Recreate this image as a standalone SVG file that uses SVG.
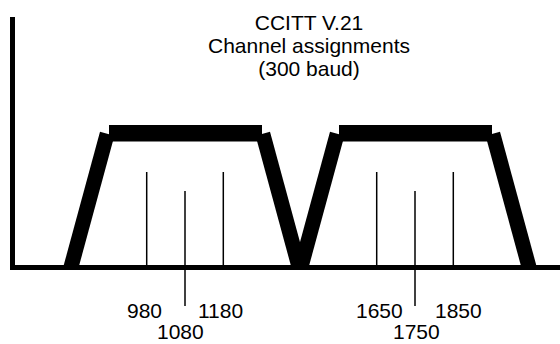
<svg xmlns="http://www.w3.org/2000/svg" width="560" height="344" viewBox="0 0 560 344">
  <style>
    .axis { stroke: #000; stroke-width: 5; fill: none; }
    .band { fill: #000; stroke: none; }
    .tick { stroke: #000; stroke-width: 1.5; fill: none; }
    text { font-family: "Liberation Sans", Arial, Helvetica, sans-serif; font-size: 21px; fill: #000; }
    .title { text-anchor: middle; }
  </style>
  <rect width="560" height="344" fill="#fff"/>

  <!-- title -->
  <g id="title">
    <text class="title" x="309" y="30">CCITT V.21</text>
    <text class="title" x="309" y="53">Channel assignments</text>
    <text class="title" x="309" y="76">(300 baud)</text>
  </g>

  <!-- lower channel: 980 / 1080 / 1180 Hz -->
  <g id="channel-low">
    <polygon class="band" points="63.1,267.5 78.6,267.5 114.4,135.7 100,131.7"/>
    <rect class="band" x="109" y="125" width="153" height="16.5"/>
    <polygon class="band" points="306.9,267.5 291.4,267.5 255.6,135.7 270,131.7"/>
    <line class="tick" x1="146.7" y1="172" x2="146.7" y2="267"/>
    <line class="tick" x1="223.3" y1="172" x2="223.3" y2="267"/>
    <line class="tick" x1="185" y1="191" x2="185" y2="306"/>
    <text x="127" y="318">980</text>
    <text x="198" y="318">1180</text>
    <text x="157" y="339">1080</text>
  </g>

  <!-- upper channel: 1650 / 1750 / 1850 Hz -->
  <g id="channel-high">
    <polygon class="band" points="293.1,267.5 308.6,267.5 344.4,135.7 330,131.7"/>
    <rect class="band" x="339" y="125" width="153" height="16.5"/>
    <polygon class="band" points="536.9,267.5 521.4,267.5 485.6,135.7 500,131.7"/>
    <line class="tick" x1="376.7" y1="172" x2="376.7" y2="267"/>
    <line class="tick" x1="453.3" y1="172" x2="453.3" y2="267"/>
    <line class="tick" x1="415" y1="191" x2="415" y2="306"/>
    <text x="356" y="318">1650</text>
    <text x="435" y="318">1850</text>
    <text x="393" y="339">1750</text>
  </g>

  <!-- axes -->
  <g id="axes">
    <polyline class="axis" points="12.5,17 12.5,267.5 560,267.5"/>
  </g>
</svg>
